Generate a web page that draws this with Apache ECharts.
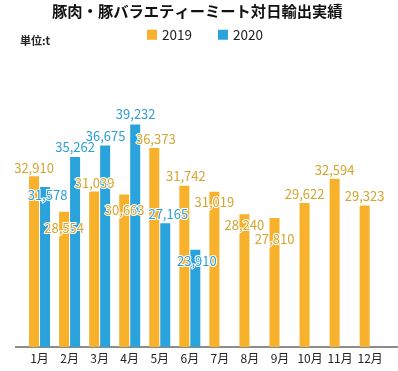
<!DOCTYPE html>
<html>
<head>
<meta charset="utf-8">
<script src="https://cdn.jsdelivr.net/npm/echarts@6/dist/echarts.min.js"></script>
<style>html,body{margin:0;padding:0;background:#fff;}#c{width:398px;height:371px;}</style>
</head>
<body>
<div id="c"></div>
<script>
const months = ['1月','2月','3月','4月','5月','6月','7月','8月','9月','10月','11月','12月'];
const seriesNames = ['2019', '2020'];
const values2019 = [32910, 28554, 31039, 30663, 36373, 31742, 31019, 28240, 27810, 29622, 32594, 29323];
const values2020 = [31578, 35262, 36675, 39232, 27165, 23910];

// label placement tweaks (style only)
const shift2019 = [[0,1.5],[0,26],[0.5,1],[0.5,25],[1.5,0.5],[1.6,-0.5],[0,20],[0,20.5],[0,30.5],[0,0],[0,1],[0,0.5]];
const shift2020 = [[2.5,17],[0,0],[0.5,0.5],[0.5,-1],[3,0.5],[1.5,21]];

const FONT = '"Noto Sans CJK JP", "Noto Sans", sans-serif';
const fmt = p => p.value.toLocaleString('en-US');

function build(vals, shifts) {
  return vals.map((v, i) => ({ value: v, label: { offset: shifts[i] } }));
}

const chart = echarts.init(document.getElementById('c'), null, { renderer: 'canvas' });
chart.setOption({
  animation: false,
  backgroundColor: '#fff',
  title: [
    { text: '豚肉・豚バラエティーミート対日輸出実績', left: 47, top: -1,
      textStyle: { fontFamily: FONT, fontSize: 15.3, fontWeight: 'bold', color: '#111' } },
    { text: '単位:t', left: 15, top: 30,
      textStyle: { fontFamily: FONT, fontSize: 11, fontWeight: 'bold', color: '#222' } }
  ],
  legend: {
    data: seriesNames, left: 147, top: 28, itemWidth: 10, itemHeight: 10, itemGap: 26,
    padding: 0, icon: 'rect',
    textStyle: { fontFamily: FONT, fontSize: 13.5, color: '#222' }
  },
  grid: { left: 24.5, right: 12.8, top: 53, bottom: 24 },
  xAxis: {
    type: 'category', data: months,
    axisLine: { show: false }, axisTick: { show: false },
    axisLabel: { interval: 0, fontFamily: FONT, fontSize: 12, color: '#222', margin: 5 }
  },
  yAxis: { type: 'value', min: 12000, max: 48000, show: false, splitLine: { show: false } },
  graphic: [
    { type: 'line', shape: { x1: 15, y1: 347, x2: 398, y2: 347 }, style: { stroke: '#666', lineWidth: 1.5 } }
  ],
  series: [
    { name: seriesNames[0], type: 'bar', barWidth: 10, barGap: '10%',
      itemStyle: { color: '#F7B12B' },
      label: { show: true, position: 'top', distance: 3, formatter: fmt,
        fontFamily: FONT, fontSize: 13, color: '#D4A52F', textBorderColor: '#fff', textBorderWidth: 2 },
      data: build(values2019, shift2019) },
    { name: seriesNames[1], type: 'bar', barWidth: 10,
      itemStyle: { color: '#2AA3DD' },
      label: { show: true, position: 'top', distance: 3, formatter: fmt,
        fontFamily: FONT, fontSize: 13, color: '#2C9FD9', textBorderColor: '#fff', textBorderWidth: 2 },
      data: build(values2020, shift2020) }
  ]
});
</script>
</body>
</html>
